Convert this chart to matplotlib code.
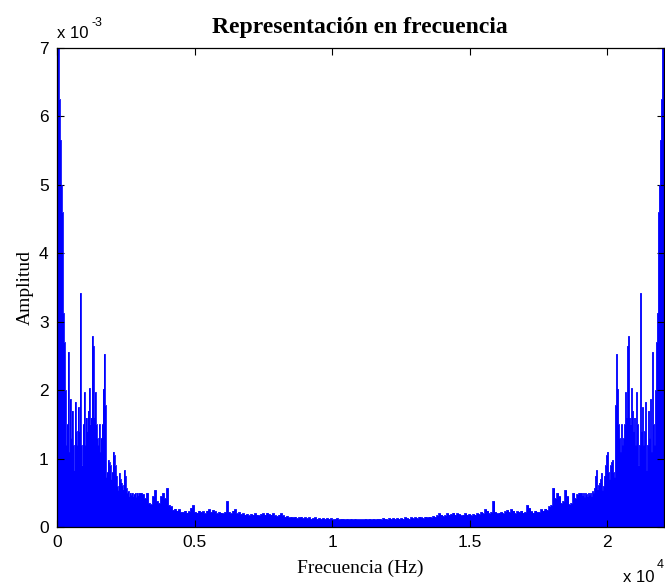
import numpy as np
import matplotlib.pyplot as plt

# Espectro de amplitud (mitad izquierda, 0 .. fs/2), valores en unidades de 1e-3
fs = 22050.0

# tramo fino: 0 .. ~3000 Hz, un bin cada 36.36 Hz
paso_fino = 10000.0 / 275
amp_fino = [
    7.4, 7.2, 6.25, 5.66, 5.0, 4.6, 3.13, 2.7, 2.0, 1.2,
    1.5, 2.56, 1.1, 1.87, 1.3, 1.7, 1.2, 0.83, 1.83, 1.4,
    1.2, 1.75, 1.4, 3.42, 1.2, 0.9, 1.5, 1.97, 1.2, 1.6,
    1.4, 1.7, 2.03, 1.5, 1.6, 2.79, 2.65, 1.6, 1.97, 1.5,
    1.3, 1.2, 1.5, 1.1, 1.3, 1.5, 2.02, 2.53, 1.78, 0.73,
    0.8, 0.98, 0.95, 0.9, 0.7, 0.8, 1.1, 1.05, 0.9, 0.75,
    0.6, 0.54, 0.79, 0.7, 0.65, 0.61, 0.55, 0.83, 0.75, 0.57,
    0.5, 0.52, 0.45, 0.5, 0.47, 0.5, 0.45, 0.48, 0.5, 0.44,
    0.5, 0.46, 0.5,
]

# tramo grueso: ~3000 .. 11025 Hz, un valor cada 72.7 Hz
paso_grueso = 2 * paso_fino
amp_grueso = [
    0.5, 0.48, 0.42, 0.5, 0.35, 0.33, 0.45, 0.54, 0.38, 0.35,
    0.45, 0.5, 0.42, 0.57, 0.32, 0.3, 0.25, 0.27, 0.24, 0.26,
    0.22, 0.22, 0.24, 0.21, 0.23, 0.28, 0.32, 0.22, 0.21, 0.24,
    0.22, 0.23, 0.2, 0.24, 0.26, 0.22, 0.25, 0.23, 0.2, 0.22,
    0.21, 0.2, 0.22, 0.38, 0.22, 0.2, 0.24, 0.26, 0.2, 0.22,
    0.19, 0.2, 0.18, 0.19, 0.17, 0.19, 0.18, 0.2, 0.18, 0.17,
    0.19, 0.2, 0.18, 0.21, 0.19, 0.18, 0.2, 0.17, 0.16, 0.18,
    0.2, 0.17, 0.15, 0.16, 0.14, 0.15, 0.14, 0.15, 0.13, 0.14,
    0.15, 0.13, 0.14, 0.13, 0.14, 0.12, 0.13, 0.14, 0.12, 0.13,
    0.12, 0.13, 0.12, 0.13, 0.12, 0.13, 0.11, 0.12, 0.13, 0.11,
    0.12, 0.12, 0.11, 0.12, 0.11, 0.12, 0.11, 0.12, 0.11, 0.11,
]

xticks = [0, 0.5, 1, 1.5, 2]
xticklabels = ['0', '0.5', '1', '1.5', '2']
yticks = [0, 1, 2, 3, 4, 5, 6, 7]

f_fino = np.arange(len(amp_fino)) * paso_fino
f_grueso = f_fino[-1] + np.arange(1, len(amp_grueso) + 1) * paso_grueso
f_mitad = np.concatenate([f_fino, f_grueso])
a_mitad = np.array(amp_fino + amp_grueso)

# espectro de señal real: simetrico respecto a fs/2
f_total = np.concatenate([f_mitad, fs - f_mitad[::-1]])
a_total = np.concatenate([a_mitad, a_mitad[::-1]])

serif = ['Liberation Serif', 'DejaVu Serif']
sans = ['Liberation Sans', 'DejaVu Sans']

fig = plt.figure(figsize=(6.65, 5.84), dpi=100)
ax = fig.add_axes([57 / 665, 57 / 584, 606.5 / 665, 479 / 584])

ax.fill_between(f_total / 1e4, a_total, step='mid', color='#0000ff', lw=0)
ax.step(f_total / 1e4, a_total, where='mid', color='#0000ff', lw=0.6)

ax.set_xlim(0, fs / 1e4)
ax.set_ylim(0, 7)
ax.set_xticks(xticks)
ax.set_xticklabels(xticklabels)
ax.set_yticks(yticks)
ax.tick_params(direction='in', length=5, width=0.8, top=True, right=True,
               labelsize=12.5, pad=6)
for lab in ax.get_xticklabels() + ax.get_yticklabels():
    lab.set_family(sans)
for s in ax.spines.values():
    s.set_linewidth(0.9)

ax.set_title('Representación en frecuencia', family=serif, fontsize=17,
             fontweight='bold', pad=11)
ax.set_xlabel('Frecuencia (Hz)', family=serif, fontsize=14, labelpad=7)
ax.set_ylabel('Amplitud', family=serif, fontsize=14, labelpad=4)

# multiplicadores de eje al estilo MATLAB
fig.text(57 / 665, 1 - 33 / 584, 'x 10', family=sans, fontsize=12,
         va='center', ha='left')
fig.text(91 / 665, 1 - 23 / 584, '-3', family=sans, fontsize=9,
         va='center', ha='left')
fig.text(623 / 665, 1 - 577 / 584, 'x 10', family=sans, fontsize=12,
         va='center', ha='left')
fig.text(657 / 665, 1 - 565 / 584, '4', family=sans, fontsize=9,
         va='center', ha='left')

fig.savefig('out.png', dpi=100)
